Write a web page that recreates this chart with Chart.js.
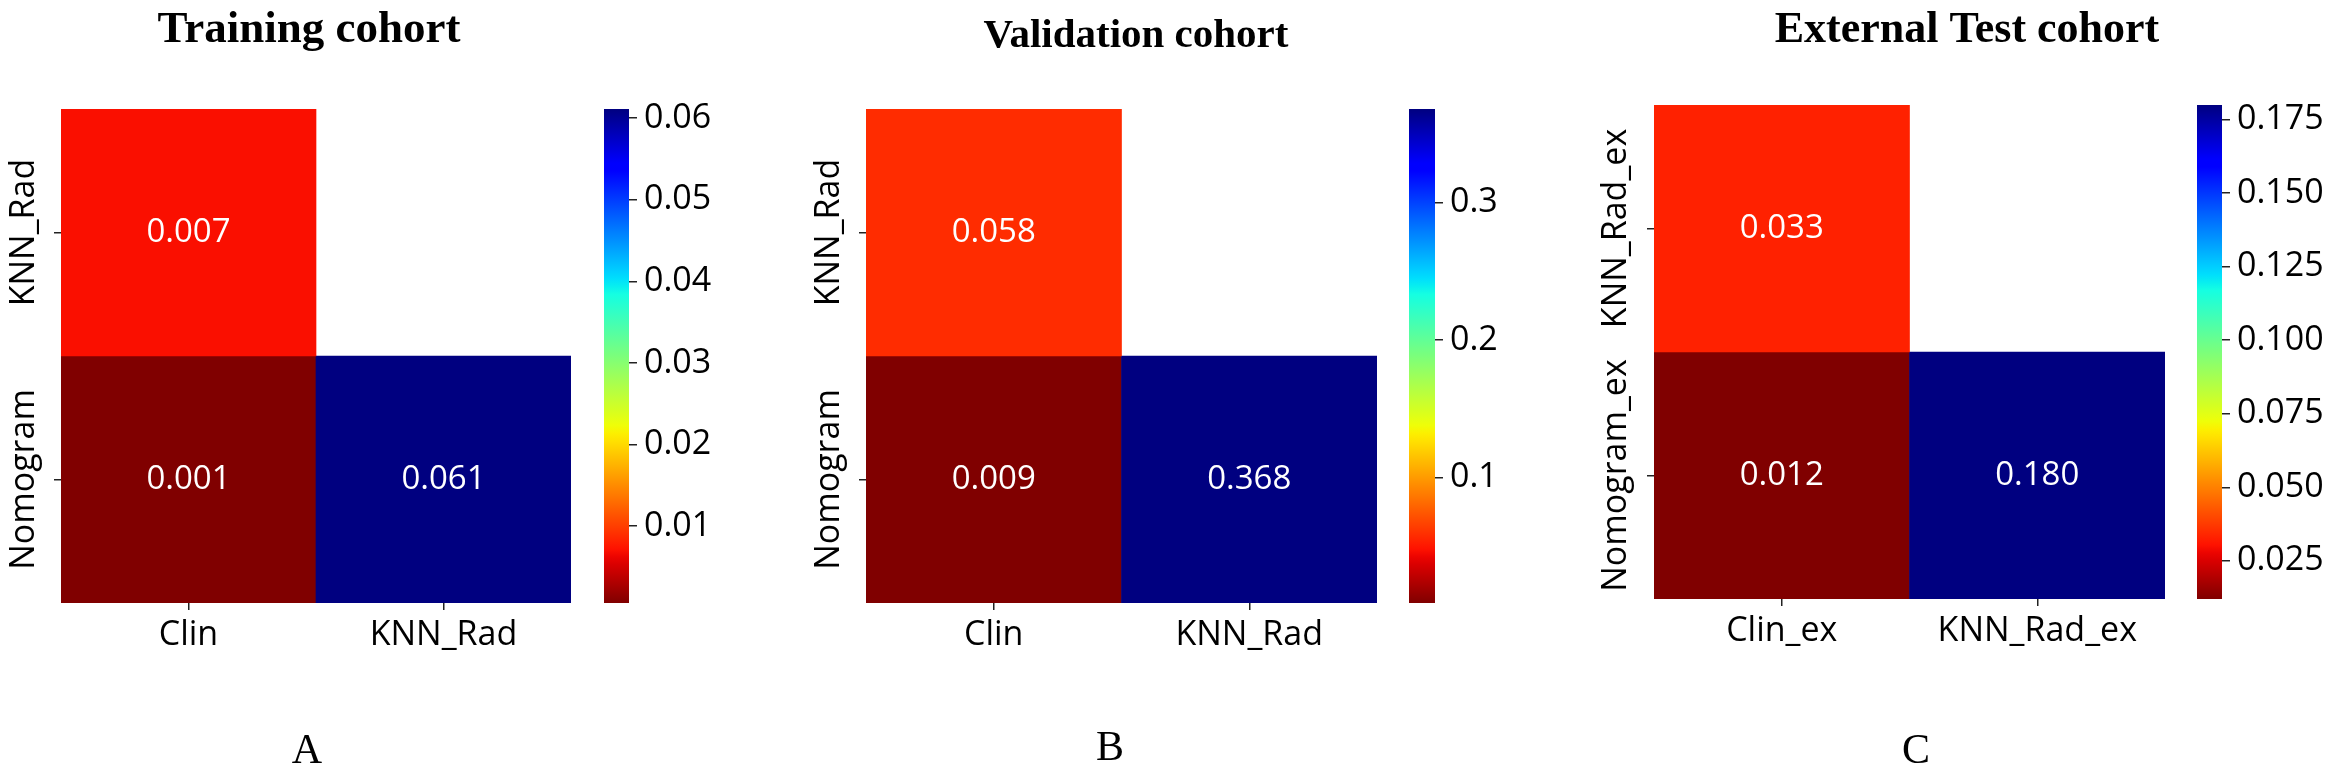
<!DOCTYPE html>
<html>
<head>
<meta charset="utf-8">
<title>P-value heatmaps</title>
<script src="https://cdn.jsdelivr.net/npm/chart.js@4.4.1/dist/chart.umd.min.js"></script>
<style>
  body { margin: 0; background: #fff; width: 2342px; height: 774px; overflow: hidden; position: relative; }
  canvas { position: absolute; top: 0; }
</style>
</head>
<body>
<canvas id="heatA"></canvas>
<canvas id="cbarA"></canvas>
<canvas id="heatB"></canvas>
<canvas id="cbarB"></canvas>
<canvas id="heatC"></canvas>
<canvas id="cbarC"></canvas>
<script>
// --- data ---
const trainCols = ['Clin', 'KNN_Rad'];
const trainRows = ['KNN_Rad', 'Nomogram'];
const trainP = [[0.007, null], [0.0006, 0.0611]];
const trainTicks = [0.01, 0.02, 0.03, 0.04, 0.05, 0.06];

const validCols = ['Clin', 'KNN_Rad'];
const validRows = ['KNN_Rad', 'Nomogram'];
const validP = [[0.058, null], [0.009, 0.368]];
const validTicks = [0.1, 0.2, 0.3];

const extCols = ['Clin_ex', 'KNN_Rad_ex'];
const extRows = ['KNN_Rad_ex', 'Nomogram_ex'];
const extP = [[0.033, null], [0.012, 0.180]];
const extTicks = [0.025, 0.05, 0.075, 0.1, 0.125, 0.15, 0.175];

const titles = ['Training cohort', 'Validation cohort', 'External Test cohort'];
const letters = ['A', 'B', 'C'];

// --- layout (pixels) ---
const H = 774;
const layouts = [
    { heatLeft: 0, heatWidth: 590, axisW: 61, padRight: 19, top: 109, bottom: 603,
      cbLeft: 590, cbWidth: 160, cbPadLeft: 14, cbAxisW: 121, decimals: 2,
      titleX: 309, titleY: 42, titleSize: 45, letterX: 307, letterY: 763, ylabOff: 37 },
    { heatLeft: 780, heatWidth: 610, axisW: 86, padRight: 13, top: 109, bottom: 603,
      cbLeft: 1395, cbWidth: 160, cbPadLeft: 14, cbAxisW: 120, decimals: 1,
      titleX: 1136, titleY: 47, titleSize: 41, letterX: 1110, letterY: 760, ylabOff: 37 },
    { heatLeft: 1560, heatWidth: 620, axisW: 94, padRight: 15, top: 105, bottom: 599,
      cbLeft: 2183, cbWidth: 159, cbPadLeft: 14, cbAxisW: 120, decimals: 3,
      titleX: 1967, titleY: 42, titleSize: 44, letterX: 1916, letterY: 763, ylabOff: 38 }
];

const tickFont = { family: "'Open Sans', 'Noto Sans', sans-serif", size: 34 };
const annotFont = "33px 'Open Sans', 'Noto Sans', sans-serif";
const tickColor = '#222';

// matplotlib 'jet' segment data, used reversed (jet_r)
const jetSeg = {
    r: [[0, 0], [0.35, 0], [0.66, 1], [0.89, 1], [1, 0.5]],
    g: [[0, 0], [0.125, 0], [0.375, 1], [0.64, 1], [0.91, 0], [1, 0]],
    b: [[0, 0.5], [0.11, 1], [0.34, 1], [0.65, 0], [1, 0]]
};
const segVal = (seg, t) => {
    for (let i = 1; i < seg.length; i++) {
        if (t <= seg[i][0]) {
            const [x0, y0] = seg[i - 1], [x1, y1] = seg[i];
            return y0 + (y1 - y0) * (t - x0) / (x1 - x0);
        }
    }
    return seg[seg.length - 1][1];
};
const jetR = (v) => {
    const t = 1 - Math.min(1, Math.max(0, v));
    const r = Math.round(segVal(jetSeg.r, t) * 255);
    const g = Math.round(segVal(jetSeg.g, t) * 255);
    const b = Math.round(segVal(jetSeg.b, t) * 255);
    return `rgb(${r},${g},${b})`;
};

const valueRange = (pvals) => {
    const all = pvals.flat().filter(v => v !== null);
    return [Math.min(...all), Math.max(...all)];
};

const setupCanvas = (id, left, width) => {
    const el = document.getElementById(id);
    el.width = width;
    el.height = H;
    el.style.left = left + 'px';
    el.style.width = width + 'px';
    el.style.height = H + 'px';
    return el;
};

const makeHeatmap = (id, cols, rows, pvals, lay, title, letter) => {
    const [vmin, vmax] = valueRange(pvals);
    const n = rows.length;
    const datasets = rows.map((rowName, r) => ({
        label: rowName,
        data: cols
            .map((c, ci) => pvals[r][ci] === null ? null : { x: c, y: [n - 1 - r, n - r], p: pvals[r][ci] })
            .filter(d => d),
        backgroundColor: ctx => ctx.raw ? jetR((ctx.raw.p - vmin) / (vmax - vmin)) : 'transparent',
        borderWidth: 0,
        barPercentage: 1,
        categoryPercentage: 1,
        grouped: false
    }));

    const panelText = {
        id: 'panelText',
        afterDatasetsDraw(chart) {
            const ctx = chart.ctx;
            ctx.save();
            ctx.fillStyle = '#fff';
            ctx.font = annotFont;
            ctx.textAlign = 'center';
            ctx.textBaseline = 'middle';
            chart.data.datasets.forEach((ds, di) => {
                chart.getDatasetMeta(di).data.forEach((bar, i) => {
                    ctx.fillText(ds.data[i].p.toFixed(3), bar.x, (bar.y + bar.base) / 2);
                });
            });
            ctx.restore();
        },
        afterDraw(chart) {
            const ctx = chart.ctx;
            const area = chart.chartArea;
            const yScale = chart.scales.y;
            ctx.save();
            // rotated row labels
            ctx.fillStyle = '#000';
            ctx.font = `${tickFont.size}px ${tickFont.family}`;
            ctx.textAlign = 'center';
            ctx.textBaseline = 'middle';
            rows.forEach((name, i) => {
                ctx.save();
                ctx.translate(area.left - lay.ylabOff, yScale.getPixelForTick(i));
                ctx.rotate(-Math.PI / 2);
                ctx.fillText(name, 0, 0);
                ctx.restore();
            });
            // title and panel letter
            ctx.textBaseline = 'alphabetic';
            ctx.font = `bold ${lay.titleSize}px 'Liberation Serif', 'Times New Roman', serif`;
            ctx.fillText(title, lay.titleX - lay.heatLeft, lay.titleY);
            ctx.font = "42px 'Liberation Serif', 'Times New Roman', serif";
            ctx.fillText(letter, lay.letterX - lay.heatLeft, lay.letterY);
            ctx.restore();
        }
    };

    const grid = { display: true, drawOnChartArea: false, drawTicks: true, tickLength: 7, color: tickColor, lineWidth: 1.5, offset: false };

    return new Chart(setupCanvas(id, lay.heatLeft, lay.heatWidth), {
        type: 'bar',
        data: { labels: cols, datasets },
        options: {
            responsive: false,
            animation: false,
            devicePixelRatio: 1,
            layout: { padding: { top: lay.top, bottom: 0, left: 0, right: lay.padRight } },
            plugins: { legend: { display: false }, tooltip: { enabled: false } },
            scales: {
                x: {
                    type: 'category',
                    grid,
                    border: { display: false },
                    ticks: { font: tickFont, color: '#000', padding: 5, maxRotation: 0 },
                    afterFit: s => { s.height = H - lay.bottom; }
                },
                y: {
                    type: 'linear',
                    min: 0,
                    max: n,
                    grid,
                    border: { display: false },
                    ticks: { display: false },
                    afterBuildTicks: s => { s.ticks = rows.map((_, r) => ({ value: n - 0.5 - r })); },
                    afterFit: s => { s.width = lay.axisW; }
                }
            }
        },
        plugins: [panelText]
    });
};

const makeColorbar = (id, pvals, ticks, lay) => {
    const [vmin, vmax] = valueRange(pvals);
    return new Chart(setupCanvas(id, lay.cbLeft, lay.cbWidth), {
        type: 'bar',
        data: {
            labels: [''],
            datasets: [{
                data: [[vmin, vmax]],
                borderWidth: 0,
                barPercentage: 1,
                categoryPercentage: 1,
                backgroundColor: ctx => {
                    const chart = ctx.chart;
                    if (!chart.chartArea) return '#000080';
                    const y = chart.scales.y;
                    const g = chart.ctx.createLinearGradient(0, y.getPixelForValue(vmin), 0, y.getPixelForValue(vmax));
                    for (let i = 0; i <= 64; i++) g.addColorStop(i / 64, jetR(i / 64));
                    return g;
                }
            }]
        },
        options: {
            responsive: false,
            animation: false,
            devicePixelRatio: 1,
            layout: { padding: { left: lay.cbPadLeft, top: lay.top, bottom: H - lay.bottom, right: 0 } },
            plugins: { legend: { display: false }, tooltip: { enabled: false } },
            scales: {
                x: { display: false },
                y: {
                    position: 'right',
                    min: vmin,
                    max: vmax,
                    afterBuildTicks: s => { s.ticks = ticks.map(v => ({ value: v })); },
                    ticks: { font: tickFont, color: '#000', padding: 7, callback: v => v.toFixed(lay.decimals) },
                    grid: { drawOnChartArea: false, drawTicks: true, tickLength: 8, color: tickColor, lineWidth: 1.5 },
                    border: { display: false },
                    afterFit: s => { s.width = lay.cbAxisW; }
                }
            }
        }
    });
};

makeHeatmap('heatA', trainCols, trainRows, trainP, layouts[0], titles[0], letters[0]);
makeColorbar('cbarA', trainP, trainTicks, layouts[0]);
makeHeatmap('heatB', validCols, validRows, validP, layouts[1], titles[1], letters[1]);
makeColorbar('cbarB', validP, validTicks, layouts[1]);
makeHeatmap('heatC', extCols, extRows, extP, layouts[2], titles[2], letters[2]);
makeColorbar('cbarC', extP, extTicks, layouts[2]);
</script>
</body>
</html>
